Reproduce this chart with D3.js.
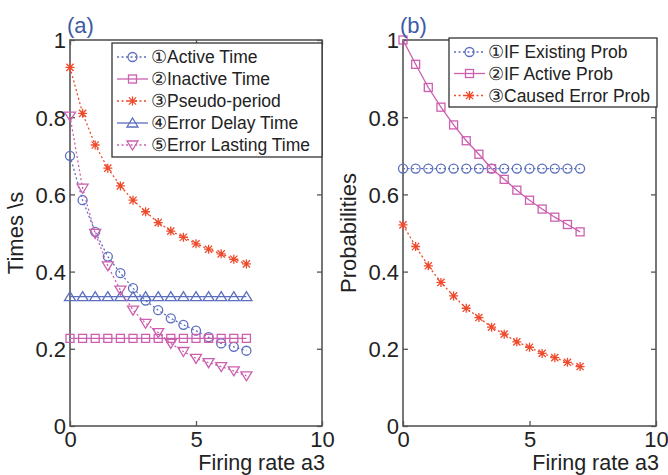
<!DOCTYPE html>
<html><head><meta charset="utf-8">
<script src="https://cdn.jsdelivr.net/npm/d3@7"></script>
<style>body{margin:0;background:#fff;} svg{display:block;}</style>
</head><body>
<script>
const xValues = [0,0.5,1,1.5,2,2.5,3,3.5,4,4.5,5,5.5,6,6.5,7];
const activeTime = [0.70,0.585,0.503,0.439,0.396,0.357,0.325,0.300,0.279,0.262,0.247,0.230,0.214,0.205,0.195];
const inactiveTime = [0.227,0.227,0.227,0.227,0.227,0.227,0.227,0.227,0.227,0.227,0.227,0.227,0.227,0.227,0.227];
const pseudoPeriod = [0.929,0.810,0.728,0.668,0.622,0.585,0.555,0.527,0.505,0.489,0.472,0.458,0.446,0.432,0.420];
const errorDelayTime = [0.335,0.335,0.335,0.335,0.335,0.335,0.335,0.335,0.335,0.335,0.335,0.335,0.335,0.335,0.335];
const errorLastingTime = [0.803,0.616,0.499,0.415,0.352,0.300,0.266,0.242,0.214,0.193,0.175,0.164,0.154,0.143,0.130];
const ifExistingProb = [0.667,0.667,0.667,0.667,0.667,0.667,0.667,0.667,0.667,0.667,0.667,0.667,0.667,0.667,0.667];
const ifActiveProb = [1.000,0.937,0.877,0.826,0.780,0.739,0.704,0.667,0.639,0.611,0.585,0.562,0.541,0.522,0.503];
const causedErrorProb = [0.521,0.465,0.415,0.372,0.337,0.305,0.281,0.256,0.238,0.218,0.204,0.188,0.177,0.165,0.154];
const xTicks = [0,5,10];
const yTicks = [0,0.2,0.4,0.6,0.8,1];
const yTickLabels = ["0","0.2","0.4","0.6","0.8","1"];

const BLUE = "#5b6fbe", MAG = "#cc5fae", RED = "#ee4a2c";

const panels = [
  {title:"(a)", ylabel:"Times \\s", left:70, right:322,
   legend:{x:112, y:43, w:210, h:114, rowY:[57,79,101,123,145]},
   series:[
    {name:"①Active Time", data:activeTime, color:BLUE, dash:"2,2.5", marker:"circle"},
    {name:"②Inactive Time", data:inactiveTime, color:MAG, dash:null, marker:"square"},
    {name:"③Pseudo-period", data:pseudoPeriod, color:RED, dash:"2,2.5", marker:"star"},
    {name:"④Error Delay Time", data:errorDelayTime, color:BLUE, dash:null, marker:"triup"},
    {name:"⑤Error Lasting Time", data:errorLastingTime, color:MAG, dash:"2,2.5", marker:"tridown"}
   ]},
  {title:"(b)", ylabel:"Probabilities", left:403, right:656,
   legend:{x:449, y:38, w:208, h:69, rowY:[52,73.5,95.5]},
   series:[
    {name:"①IF Existing Prob", data:ifExistingProb, color:BLUE, dash:"2,2.5", marker:"circle"},
    {name:"②IF Active Prob", data:ifActiveProb, color:MAG, dash:null, marker:"square"},
    {name:"③Caused Error Prob", data:causedErrorProb, color:RED, dash:"2,2.5", marker:"star"}
   ]}
];

const W=668,H=475, TOP=40, BOTTOM=426;
const svg = d3.select("body").append("svg").attr("width",W).attr("height",H)
  .style("font-family","'Liberation Sans', Arial, sans-serif");

function drawMarker(g, type, cx, cy, color){
  const s = 4.5;
  let el;
  if(type==="circle"){
    el = g.append("circle").attr("cx",cx).attr("cy",cy).attr("r",s);
  } else if(type==="square"){
    el = g.append("rect").attr("x",cx-4).attr("y",cy-4).attr("width",8).attr("height",8);
  } else if(type==="triup"){
    el = g.append("path").attr("d",`M${cx},${cy-5}L${cx+5.5},${cy+4}L${cx-5.5},${cy+4}Z`);
  } else if(type==="tridown"){
    el = g.append("path").attr("d",`M${cx},${cy+5}L${cx+5.5},${cy-4}L${cx-5.5},${cy-4}Z`);
  } else if(type==="star"){
    const d = 3.6;
    el = g.append("path").attr("d",
      `M${cx-s},${cy}L${cx+s},${cy}M${cx},${cy-s}L${cx},${cy+s}M${cx-d},${cy-d}L${cx+d},${cy+d}M${cx-d},${cy+d}L${cx+d},${cy-d}`);
  }
  el.attr("fill","none").attr("stroke",color).attr("stroke-width",1.3);
}

panels.forEach(p=>{
  const x = d3.scaleLinear().domain([0,10]).range([p.left,p.right]);
  const y = d3.scaleLinear().domain([0,1]).range([BOTTOM,TOP]);
  const g = svg.append("g");

  g.append("rect").attr("x",p.left).attr("y",TOP).attr("width",p.right-p.left).attr("height",BOTTOM-TOP)
    .attr("fill","none").attr("stroke","#555").attr("stroke-width",1.6);

  const ax = d3.axisBottom(x).tickValues(xTicks).tickSizeInner(-5).tickSizeOuter(0).tickPadding(0);
  const axg = g.append("g").attr("transform",`translate(0,${BOTTOM})`).call(ax);
  const axt = d3.axisTop(x).tickValues(xTicks).tickSizeInner(-5).tickSizeOuter(0).tickFormat("");
  const axtg = g.append("g").attr("transform",`translate(0,${TOP})`).call(axt);
  const ay = d3.axisLeft(y).tickValues(yTicks).tickFormat((d,i)=>yTickLabels[i]).tickSizeInner(-5).tickSizeOuter(0).tickPadding(4);
  const ayg = g.append("g").attr("transform",`translate(${p.left},0)`).call(ay);
  const ar = d3.axisRight(y).tickValues(yTicks).tickSizeInner(-5).tickSizeOuter(0).tickFormat("");
  const arg = g.append("g").attr("transform",`translate(${p.right},0)`).call(ar);
  [axg,axtg,ayg,arg].forEach(a=>{
    a.select(".domain").remove();
    a.selectAll(".tick line").attr("stroke","#555").attr("stroke-width",1.3);
    a.selectAll("text").attr("fill","#222").style("font-size","22px").attr("font-family","'Liberation Sans', Arial, sans-serif");
  });
  axg.selectAll(".tick text").attr("y",21).attr("dy",null);
  ayg.selectAll(".tick text").attr("dy","0.36em");

  const line = d3.line().x((d,i)=>x(xValues[i])).y(d=>y(d));
  p.series.forEach(s=>{
    g.append("path").datum(s.data).attr("d",line).attr("fill","none")
      .attr("stroke",s.color).attr("stroke-width",1.3)
      .attr("stroke-dasharray",s.dash);
    const mg = g.append("g");
    s.data.forEach((v,i)=>drawMarker(mg,s.marker,x(xValues[i]),y(v),s.color));
  });

  const L = p.legend;
  g.append("rect").attr("x",L.x).attr("y",L.y).attr("width",L.w).attr("height",L.h)
    .attr("fill","#fff").attr("stroke","#333").attr("stroke-width",1.3);
  p.series.forEach((s,i)=>{
    const ry = L.rowY[i];
    g.append("line").attr("x1",L.x+5).attr("x2",L.x+36).attr("y1",ry).attr("y2",ry)
      .attr("stroke",s.color).attr("stroke-width",1.3).attr("stroke-dasharray",s.dash);
    drawMarker(g,s.marker,L.x+20.5,ry,s.color);
    g.append("text").attr("x",L.x+39).attr("y",ry).attr("dy","0.36em")
      .attr("fill","#222").style("font-size","17.5px").text(s.name);
  });

  g.append("text").attr("x",p.left-3).attr("y",33).attr("fill","#3c5aa6")
    .style("font-size","22px").text(p.title);

  g.append("text").attr("x",p.right+3).attr("y",470).attr("text-anchor","end")
    .attr("fill","#222").style("font-size","21.5px").text("Firing rate a3");

  g.append("text").attr("transform",`translate(${p.left-47},${(TOP+BOTTOM)/2}) rotate(-90)`)
    .attr("text-anchor","middle").attr("fill","#222").style("font-size","22px").text(p.ylabel);
});
</script>
</body></html>
